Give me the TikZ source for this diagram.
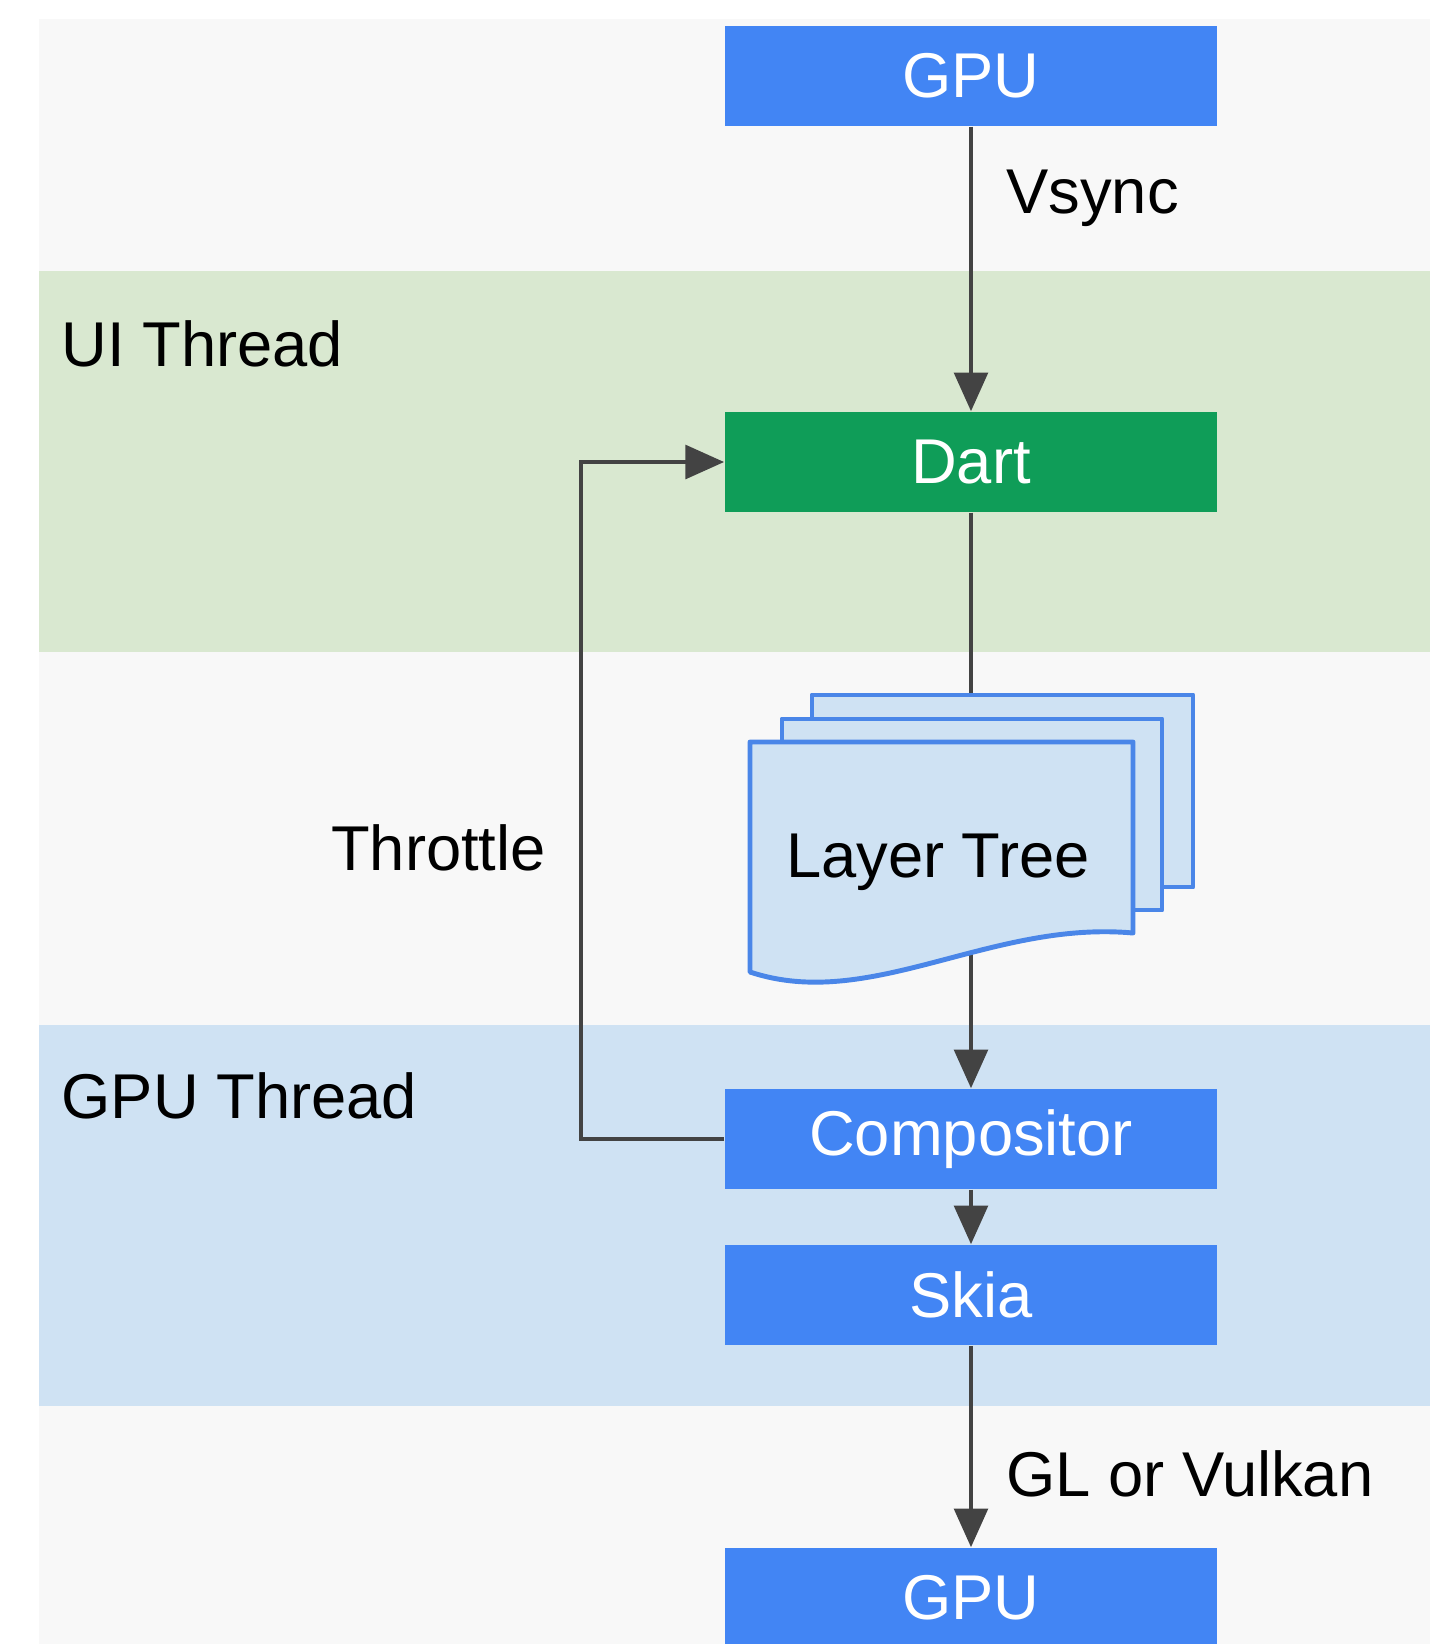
\documentclass[tikz,border=0pt]{standalone}
\usepackage{fontspec}
\setmainfont{Liberation Sans}
\usetikzlibrary{arrows.meta}
\definecolor{gblue}{HTML}{4285F4}
\definecolor{ggreen}{HTML}{0F9D58}
\definecolor{bandgreen}{HTML}{D9E8D0}
\definecolor{bandblue}{HTML}{CFE2F3}
\definecolor{bggray}{HTML}{F8F8F8}
\definecolor{sheetline}{HTML}{4A86E8}
\definecolor{linegray}{HTML}{434343}
\begin{document}
\begin{tikzpicture}[x=0.01cm,y=-0.01cm,
    font=\fontsize{18}{22}\selectfont,
    box/.style={fill=gblue, text=white, minimum width=4.92cm, minimum height=1cm, inner sep=0pt},
    link/.style={draw=linegray, line width=1.3pt},
    flow/.style={link, -{Triangle[length=11pt,width=9.5pt]}},
    sheet/.style={draw=sheetline, fill=bandblue, line width=1.4pt, line join=round},
    lbl/.style={inner sep=0pt}]
    \useasboundingbox (0,0) rectangle (1430,1644);

    % bands
    \fill[bggray] (39,19) rectangle (1430,1644);
    \fill[bandgreen] (39,271) rectangle (1430,652);
    \fill[bandblue] (39,1025) rectangle (1430,1406);
    \node[lbl, anchor=west] (ui) at (61,344) {UI Thread};
    \node[lbl, anchor=west] (gt) at (61,1096) {GPU Thread};

    % boxes
    \node[box] (gputop) at (971,76) {GPU};
    \node[box, fill=ggreen] (dart) at (971,462) {Dart};
    \node[box] (comp) at (971,1139) {Compositor};
    \node[box] (skia) at (971,1295) {Skia};
    \node[box] (gpubot) at (971,1598) {GPU};

    % layer tree
    \coordinate (treetop) at (971,695);
    \coordinate (treebot) at (971,900);
    \draw[link] (dart) -- (treetop);
    \draw[flow] (treebot) -- (comp);
    \draw[sheet] (812,695) rectangle (1193,887);
    \draw[sheet] (782,719) rectangle (1162,910);
    \draw[sheet] (750,742) -- (1133,742) -- (1133,933)
        .. controls (990,920) and (870,1012) .. (750,972) -- cycle;
    \node (tree) at (938,862) {Layer Tree};

    % connectors
    \draw[flow] (gputop) -- node[lbl, pos=.25, right=0.33cm] {Vsync} (dart);
    \draw[flow] (comp) -- (skia);
    \draw[flow] (skia) -- node[lbl, pos=.635, right=0.33cm] {GL or Vulkan} (gpubot);
    \draw[flow] (comp.west) -- ++(-143,0) |- node[lbl, pos=.215, left=0.33cm] {Throttle} (dart.west);
\end{tikzpicture}
\end{document}
